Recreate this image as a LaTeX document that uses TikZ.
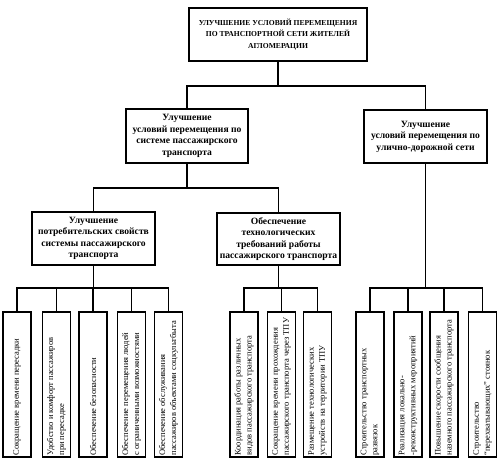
\documentclass[tikz,border=0pt]{standalone}
\usepackage{fontspec}
\setmainfont{Liberation Serif}
\usepackage{graphicx}
\newcommand\leaftext[1]{\rotatebox{90}{\parbox{142pt}{\raggedright #1}}}
\begin{document}
\begin{tikzpicture}[x=1pt,y=-1pt,
  box/.style={draw, line width=1.4pt, inner sep=0pt, align=center,
    font=\bfseries\fontsize{9.6}{11.5}\selectfont},
  leaf/.style={draw, line width=1.4pt, inner sep=0pt, minimum width=28pt,
    minimum height=145pt, font=\fontsize{8.5}{11}\selectfont},
  conn/.style={line width=1.3pt}]
\useasboundingbox[fill=white] (0,0) rectangle (502,466);

% top
\node[box, minimum width=178pt, minimum height=53pt,
  font=\bfseries\fontsize{7.6}{11.5}\selectfont] (top) at (278,34.5)
  {УЛУЧШЕНИЕ УСЛОВИЙ ПЕРЕМЕЩЕНИЯ\\ПО ТРАНСПОРТНОЙ СЕТИ ЖИТЕЛЕЙ\\АГЛОМЕРАЦИИ};

% middle level
\node[box, minimum width=122pt, minimum height=54pt] (midL) at (187,136)
  {Улучшение\\условий перемещения по\\системе пассажирского\\транспорта};
\node[box, minimum width=123pt, minimum height=53pt] (midR) at (425.5,136.5)
  {Улучшение\\условий перемещения по\\улично-дорожной сети};

% third level
\node[box, minimum width=123pt, minimum height=53pt] (lowL) at (93.5,238.5)
  {Улучшение\\потребительских свойств\\системы пассажирского\\транспорта};
\node[box, minimum width=123pt, minimum height=52pt] (lowR) at (278.5,239)
  {Обеспечение\\технологических\\требований работы\\пассажирского транспорта};

% leaves
\node[leaf] (a1) at (17,384.5) {\leaftext{Сокращение времени пересадки}};
\node[leaf] (a2) at (56.5,384.5) {\leaftext{Удобство и комфорт пассажиров\\при пересадке}};
\node[leaf] (a3) at (93,384.5) {\leaftext{Обеспечение безопасности}};
\node[leaf] (a4) at (131.5,384.5) {\leaftext{Обеспечение перемещения людей\\с ограниченными возможностями}};
\node[leaf] (a5) at (168.5,384.5) {\leaftext{Обеспечение обслуживания\\пассажиров объектами соцкультбыта}};

\node[leaf] (b1) at (244,384.5) {\leaftext{Координация работы различных\\видов пассажирского транспорта}};
\node[leaf] (b2) at (281.5,384.5) {\leaftext{Сокращение времени прохождения\\пассажирского транспорта через ТПУ}};
\node[leaf] (b3) at (317.5,384.5) {\leaftext{Размещение технологических\\устройств на территории ТПУ}};

\node[leaf] (c1) at (370,384.5) {\leaftext{Строительство транспортных\\развязок}};
\node[leaf] (c2) at (408,384.5) {\leaftext{Реализация локально-\\-реконструктивных мероприятий}};
\node[leaf] (c3) at (444,384.5) {\leaftext{Повышение скорости сообщения\\наземного пассажирского транспорта}};
\node[leaf] (c4) at (482.5,384.5) {\leaftext{Строительство\\“перехватывающих” стоянок}};

% junctions
\coordinate (j0) at (278,86);
\coordinate (j1) at (187,188);
\coordinate (ja) at (93.5,288);
\coordinate (jb) at (278.5,288);
\coordinate (jc) at (425.5,288);

\draw[conn] (top.south) -- (j0);
\draw[conn] (midL.north) |- (j0);
\draw[conn] (midR.north) |- (j0);

\draw[conn] (midL.south) -- (j1);
\draw[conn] (lowL.north) |- (j1);
\draw[conn] (lowR.north) |- (j1);

\draw[conn] (lowL.south) -- (ja);
\foreach \n in {a1,a2,a3,a4,a5} \draw[conn] (\n.north) |- (ja);
\draw[conn] (lowR.south) -- (jb);
\foreach \n in {b1,b2,b3} \draw[conn] (\n.north) |- (jb);
\draw[conn] (midR.south) -- (jc);
\foreach \n in {c1,c2,c3,c4} \draw[conn] (\n.north) |- (jc);
\end{tikzpicture}
\end{document}
